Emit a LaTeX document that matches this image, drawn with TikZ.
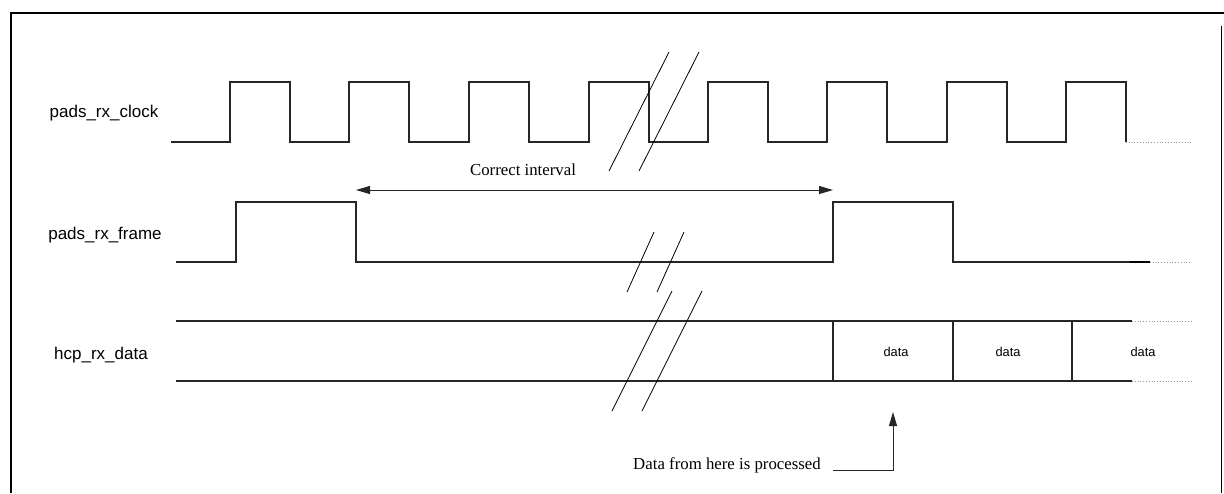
\documentclass[tikz,border=0pt]{standalone}
\usepackage{fontspec}
\setmainfont{Liberation Serif}
\newfontfamily\arialfont{Liberation Sans}
\usetikzlibrary{arrows.meta}

\begin{document}
\begin{tikzpicture}[x=0.5pt, y=-0.5pt, >={Triangle[length=7pt, width=4pt]},
    wave/.style={black!85, line width=0.55pt},
    tail/.style={black!40, densely dotted, line width=0.4pt},
    brk/.style={black, line width=0.4pt},
    siglabel/.style={font=\arialfont\fontsize{8.5}{10}\selectfont, inner sep=0pt},
    cellnum/.style={font=\arialfont\fontsize{6.4}{7}\selectfont, inner sep=0pt},
    note/.style={font=\fontsize{8.4}{10}\selectfont, inner sep=0pt}]
    \useasboundingbox (0,0) rectangle (1224,493);

    % === frame ===
    \draw[line width=1.2pt] (11,493) -- (11,13) -- (1224,13);
    \draw[line width=0.5pt] (1221,26) -- (1221,493);

    % === signal names ===
    \node[siglabel] (lblclock) at (104,113) {pads\_rx\_clock};
    \node[siglabel] (lblframe) at (105,235) {pads\_rx\_frame};
    \node[siglabel] (lbldata) at (101,355) {hcp\_rx\_data};

    % === clock ===
    \draw[wave] (171,142) foreach \r in {230,349,469,589,708,827,947,1066} {
        -- (\r,142) -- (\r,82) -- ({\r+60},82) -- ({\r+60},142) };
    \draw[tail] (1126,142) -- (1192,142);
    \draw[brk] (609,171) -- (669,52);
    \draw[brk] (639,171) -- (699,52);

    % === correct interval ===
    \coordinate (ivstart) at (356,190);
    \coordinate (ivend) at (833,190);
    \draw[<->, black!85, line width=0.5pt] (ivstart) -- (ivend);
    \node[note] (ivtext) at (523,170) {Correct interval};

    % === frame signal ===
    \draw[wave] (176,262) -- (236,262) -- (236,202) -- (356,202) -- (356,262)
        -- (833,262) -- (833,202) -- (953,202) -- (953,262) -- (1130,262);
    \draw[black, line width=0.9pt] (1130,262) -- (1150,262);
    \draw[tail] (1150,262) -- (1192,262);
    \draw[brk] (627,292) -- (654,232);
    \draw[brk] (657,292) -- (684,232);

    % === data bus ===
    \draw[wave] (176,321) -- (1132,321);
    \draw[wave] (176,381) -- (1132,381);
    \draw[tail] (1132,321) -- (1192,321);
    \draw[tail] (1132,381) -- (1192,381);
    \draw[wave] (833,321) -- (833,381);
    \draw[wave] (953,321) -- (953,381);
    \draw[wave] (1072,321) -- (1072,381);
    \node[cellnum] (cella) at (896,352) {data};
    \node[cellnum] (cellb) at (1008,352) {data};
    \node[cellnum] (cellc) at (1143,352) {data};
    \draw[brk] (612,411) -- (672,291);
    \draw[brk] (642,411) -- (702,291);

    % === processing start ===
    \node[note] (procnote) at (727,465) {Data from here is processed};
    \coordinate (procfoot) at (833,470);
    \coordinate (proccorner) at (893,470);
    \coordinate (proctip) at (893,412);
    \draw[->, black!85, line width=0.5pt] (procfoot) -- (proccorner) -- (proctip);
\end{tikzpicture}
\end{document}
